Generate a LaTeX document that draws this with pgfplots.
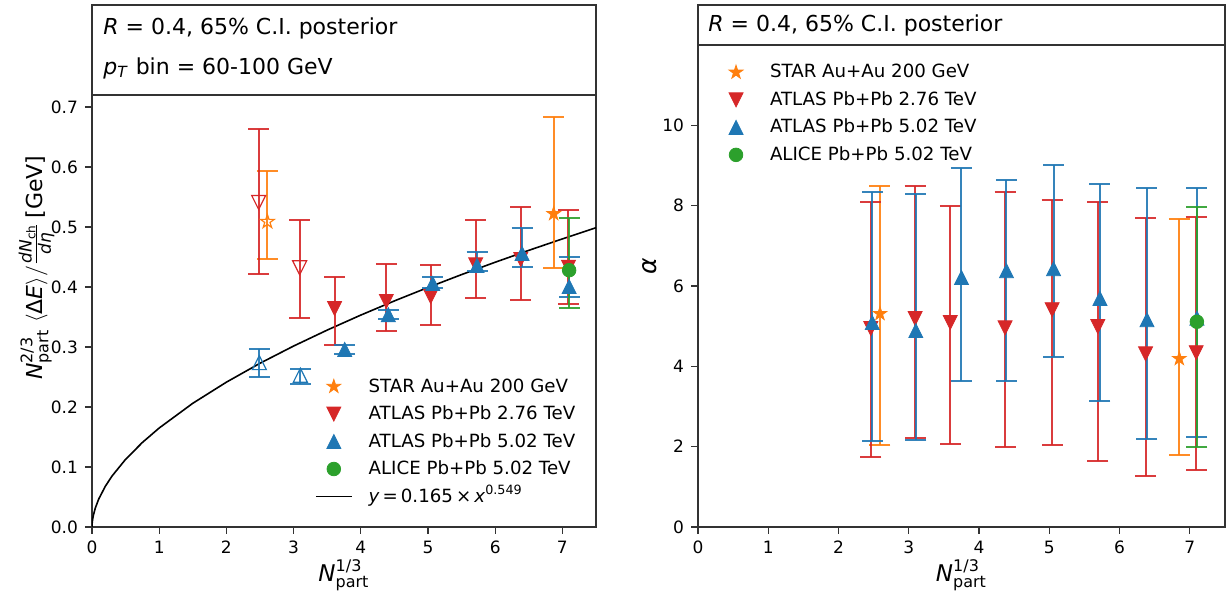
\documentclass[border=0pt]{standalone}
\usepackage{fontspec}
\setmainfont{DejaVu Sans}
\usepackage{pgfplots}
\pgfplotsset{compat=1.18}
\usepackage{pgfplotstable}

\definecolor{tabred}{HTML}{D62728}
\definecolor{tabblue}{HTML}{1F77B4}
\definecolor{taborange}{HTML}{FF7F0E}
\definecolor{tabgreen}{HTML}{2CA02C}
\definecolor{framegray}{gray}{0.2}

\newcommand\tickfont{\fontsize{8.5}{10}\selectfont}
\newcommand\legfont{\fontsize{9.1}{11}\selectfont}
\newcommand\labfont{\fontsize{11.5}{13}\selectfont}
\newcommand\scrfont{\fontsize{8}{9}\selectfont}

% matplotlib-like markers
\pgfdeclareplotmark{mtriu}{%
  \pgfpathmoveto{\pgfpoint{0pt}{\pgfplotmarksize}}%
  \pgfpathlineto{\pgfpoint{-\pgfplotmarksize}{-\pgfplotmarksize}}%
  \pgfpathlineto{\pgfpoint{\pgfplotmarksize}{-\pgfplotmarksize}}%
  \pgfpathclose\pgfusepathqfillstroke}
\pgfdeclareplotmark{mtriuo}{%
  \pgfpathmoveto{\pgfpoint{0pt}{\pgfplotmarksize}}%
  \pgfpathlineto{\pgfpoint{-\pgfplotmarksize}{-\pgfplotmarksize}}%
  \pgfpathlineto{\pgfpoint{\pgfplotmarksize}{-\pgfplotmarksize}}%
  \pgfpathclose\pgfusepathqstroke}
\pgfdeclareplotmark{mtrid}{%
  \pgfpathmoveto{\pgfpoint{0pt}{-\pgfplotmarksize}}%
  \pgfpathlineto{\pgfpoint{-\pgfplotmarksize}{\pgfplotmarksize}}%
  \pgfpathlineto{\pgfpoint{\pgfplotmarksize}{\pgfplotmarksize}}%
  \pgfpathclose\pgfusepathqfillstroke}
\pgfdeclareplotmark{mtrido}{%
  \pgfpathmoveto{\pgfpoint{0pt}{-\pgfplotmarksize}}%
  \pgfpathlineto{\pgfpoint{-\pgfplotmarksize}{\pgfplotmarksize}}%
  \pgfpathlineto{\pgfpoint{\pgfplotmarksize}{\pgfplotmarksize}}%
  \pgfpathclose\pgfusepathqstroke}
\newcommand\starpath{%
  \pgfpathmoveto{\pgfpointpolar{90}{\pgfplotmarksize}}%
  \pgfpathlineto{\pgfpointpolar{126}{0.382\pgfplotmarksize}}%
  \pgfpathlineto{\pgfpointpolar{162}{\pgfplotmarksize}}%
  \pgfpathlineto{\pgfpointpolar{198}{0.382\pgfplotmarksize}}%
  \pgfpathlineto{\pgfpointpolar{234}{\pgfplotmarksize}}%
  \pgfpathlineto{\pgfpointpolar{270}{0.382\pgfplotmarksize}}%
  \pgfpathlineto{\pgfpointpolar{306}{\pgfplotmarksize}}%
  \pgfpathlineto{\pgfpointpolar{342}{0.382\pgfplotmarksize}}%
  \pgfpathlineto{\pgfpointpolar{18}{\pgfplotmarksize}}%
  \pgfpathlineto{\pgfpointpolar{54}{0.382\pgfplotmarksize}}%
  \pgfpathclose}
\pgfdeclareplotmark{mstar}{\starpath\pgfusepathqfillstroke}
\pgfdeclareplotmark{mstaro}{\starpath\pgfusepathqstroke}

\pgfplotsset{
  legend image code/.code={\path[draw=none,fill=none] (0pt,0pt) (18pt,0pt);\draw[mark repeat=2,mark phase=2,#1] plot coordinates {(0pt,0pt) (9pt,0pt) (18pt,0pt)};},
  mystyle/.style={
    scale only axis,
    axis line style={framegray, line width=0.6pt},
    tick pos=left, tick align=outside,
    major tick length=3.5pt,
    every tick/.style={framegray, line width=0.6pt},
    tick label style={font=\tickfont},
    /pgf/number format/assume math mode=true,
    xmin=0, xmax=7.5, xtick={0,1,2,3,4,5,6,7},
    legend cell align=left,
    legend style={draw=none, fill=none, inner sep=0pt, outer sep=0pt,
      row sep=3.25pt, column sep=7pt, font=\legfont,
      nodes={inner sep=1pt, text height=7pt, text depth=1.5pt}},
  },
  eb/.style={only marks, color=#1,
    error bars/y dir=both, error bars/y explicit,
    error bars/error bar style={line width=1pt, color=#1, opacity=0.9},
    error bars/error mark options={rotate=90, mark size=5.25pt, line width=1pt, color=#1, opacity=0.9}},
  open/.style={mark options={line width=0.6pt, fill=none}},
}

% ---------------- left panel data ----------------
\pgfplotstableread{
x y lo hi
6.87 0.522 0.432 0.684
}\LstarF
\pgfplotstableread{
x y lo hi
2.61 0.509 0.447 0.594
}\LstarO
\pgfplotstableread{
x y lo hi
3.61 0.364 0.304 0.417
4.38 0.376 0.326 0.439
5.04 0.384 0.337 0.436
5.71 0.437 0.382 0.511
6.38 0.446 0.379 0.534
7.09 0.433 0.372 0.529
}\LredF
\pgfplotstableread{
x y lo hi
2.48 0.541 0.422 0.663
3.09 0.432 0.349 0.511
}\LredO
\pgfplotstableread{
x y lo hi
3.76 0.296 0.289 0.304
4.41 0.354 0.346 0.362
5.07 0.406 0.399 0.416
5.73 0.436 0.426 0.459
6.40 0.456 0.434 0.499
7.10 0.401 0.384 0.450
}\LblueF
\pgfplotstableread{
x y lo hi
2.49 0.274 0.250 0.297
3.10 0.253 0.239 0.264
}\LblueO
\pgfplotstableread{
x y lo hi
7.10 0.428 0.365 0.515
}\Lgreen
\pgfplotstableread{
x y
0 0
0.001 0.00372
0.003 0.0068
0.01 0.01317
0.02 0.01927
0.05 0.03186
0.1 0.04661
0.2 0.0682
0.3 0.0852
0.5 0.1128
0.75 0.1409
1 0.165
1.5 0.2062
2 0.2414
2.5 0.2729
3 0.3016
3.5 0.3282
4 0.3532
4.5 0.3768
5 0.3992
5.5 0.4207
6 0.4413
6.5 0.4611
7 0.4802
7.5 0.4988
}\Lfit

% ---------------- right panel data ----------------
\pgfplotstableread{
x y lo hi
2.59 5.31 2.04 8.50
6.85 4.19 1.80 7.66
}\Rstar
\pgfplotstableread{
x y lo hi
2.46 4.94 1.75 8.08
3.09 5.19 2.22 8.48
3.59 5.09 2.07 8.00
4.37 4.96 2.00 8.33
5.04 5.41 2.04 8.15
5.69 4.99 1.65 8.08
6.37 4.31 1.27 7.70
7.09 4.34 1.42 7.73
}\Rred
\pgfplotstableread{
x y lo hi
2.48 5.09 2.14 8.35
3.10 4.89 2.17 8.30
3.75 6.21 3.64 8.93
4.39 6.38 3.64 8.65
5.06 6.43 4.24 9.00
5.72 5.69 3.14 8.53
6.39 5.16 2.19 8.45
7.10 5.20 2.24 8.43
}\Rblue
\pgfplotstableread{
x y lo hi
7.10 5.11 1.98 7.96
}\Rgreen

\begin{document}
\begin{tikzpicture}
\path[use as bounding box] (0,0) rectangle (616pt,297pt);

% ---------- left header ----------
\draw[framegray, line width=0.6pt] (46pt,249.5pt) rectangle (298pt,294.5pt);
\node[anchor=west, inner sep=0pt, font=\fontsize{11}{13}\selectfont] at (51.5pt,283pt) {\textit{R} = 0.4, 65\% C.I. posterior};
\node[anchor=west, inner sep=0pt, font=\fontsize{11}{13}\selectfont] at (51.5pt,263pt) {\textit{p}\textsubscript{\textit{T}} bin = 60-100 GeV};

% ---------- right header ----------
\draw[framegray, line width=0.6pt] (349pt,274.5pt) rectangle (612.5pt,294.5pt);
\node[anchor=west, inner sep=0pt, font=\fontsize{11}{13}\selectfont] at (354pt,284.5pt) {\textit{R} = 0.4, 65\% C.I. posterior};

% ---------- left axis ----------
\begin{axis}[mystyle,
  at={(46pt,33.5pt)}, anchor=south west,
  width=252pt, height=216pt,
  ymin=0, ymax=0.72,
  ytick={0,0.1,0.2,0.3,0.4,0.5,0.6,0.7},
  yticklabel style={/pgf/number format/.cd, fixed, fixed zerofill, precision=1},
  xlabel={\labfont$\mbox{\textit{N}}^{\mbox{\scrfont 1/3}}_{\mbox{\scrfont part}}$},
  xlabel style={at={(axis description cs:0.5,-0.111)}, anchor=center},
  ylabel={\fontsize{11}{13}\selectfont$\mbox{\textit{N}}^{\mbox{\scrfont 2/3}}_{\mbox{\scrfont part}}\ \langle\mbox{Δ\textit{E}}\rangle/\frac{\mbox{\fontsize{8.5}{9}\selectfont\textit{dN}}_{\mbox{\fontsize{6}{7}\selectfont ch}}}{\mbox{\fontsize{8.5}{9}\selectfont\textit{d}\textit{η}}}\,\mbox{[GeV]}$},
  ylabel style={at={(axis description cs:-0.11,0.6)}, anchor=center},
  legend style={at={(axis description cs:0.4425,0.3495)}, anchor=north west},
]
\addplot[black, line width=0.8pt, forget plot] table[x=x,y=y] {\Lfit};
\addplot[eb=taborange, mark=mstar, mark size=3.6pt] table[x=x, y=y, y error plus expr=\thisrow{hi}-\thisrow{y}, y error minus expr=\thisrow{y}-\thisrow{lo}] {\LstarF};
\addlegendentry{STAR Au+Au 200 GeV}
\addplot[eb=taborange, mark=mstaro, mark size=3.6pt, open, forget plot] table[x=x, y=y, y error plus expr=\thisrow{hi}-\thisrow{y}, y error minus expr=\thisrow{y}-\thisrow{lo}] {\LstarO};
\addplot[eb=tabred, mark=mtrid, mark size=3.5pt] table[x=x, y=y, y error plus expr=\thisrow{hi}-\thisrow{y}, y error minus expr=\thisrow{y}-\thisrow{lo}] {\LredF};
\addlegendentry{ATLAS Pb+Pb 2.76 TeV}
\addplot[eb=tabred, mark=mtrido, mark size=3.5pt, open, forget plot] table[x=x, y=y, y error plus expr=\thisrow{hi}-\thisrow{y}, y error minus expr=\thisrow{y}-\thisrow{lo}] {\LredO};
\addplot[eb=tabblue, mark=mtriu, mark size=3.5pt] table[x=x, y=y, y error plus expr=\thisrow{hi}-\thisrow{y}, y error minus expr=\thisrow{y}-\thisrow{lo}] {\LblueF};
\addlegendentry{ATLAS Pb+Pb 5.02 TeV}
\addplot[eb=tabblue, mark=mtriuo, mark size=3.5pt, open, forget plot] table[x=x, y=y, y error plus expr=\thisrow{hi}-\thisrow{y}, y error minus expr=\thisrow{y}-\thisrow{lo}] {\LblueO};
\addplot[eb=tabgreen, mark=*, mark size=3.4pt] table[x=x, y=y, y error plus expr=\thisrow{hi}-\thisrow{y}, y error minus expr=\thisrow{y}-\thisrow{lo}] {\Lgreen};
\addlegendentry{ALICE Pb+Pb 5.02 TeV}
\addlegendimage{black, line width=0.8pt}
\addlegendentry{\textit{y}\,=\,0.165\,×\,\textit{x}\textsuperscript{0.549}}
\end{axis}

% ---------- right axis ----------
\begin{axis}[mystyle,
  at={(349pt,33.5pt)}, anchor=south west,
  width=263.5pt, height=241pt,
  ymin=0, ymax=12,
  ytick={0,2,4,6,8,10},
  xlabel={\labfont$\mbox{\textit{N}}^{\mbox{\scrfont 1/3}}_{\mbox{\scrfont part}}$},
  xlabel style={at={(axis description cs:0.5,-0.0996)}, anchor=center},
  ylabel={\fontsize{12.5}{14}\selectfont\textit{α}},
  ylabel style={at={(axis description cs:-0.091,0.54)}, anchor=center},
  legend style={at={(axis description cs:0.038,0.965)}, anchor=north west},
]
\addplot[eb=taborange, mark=mstar, mark size=3.6pt] table[x=x, y=y, y error plus expr=\thisrow{hi}-\thisrow{y}, y error minus expr=\thisrow{y}-\thisrow{lo}] {\Rstar};
\addlegendentry{STAR Au+Au 200 GeV}
\addplot[eb=tabred, mark=mtrid, mark size=3.5pt] table[x=x, y=y, y error plus expr=\thisrow{hi}-\thisrow{y}, y error minus expr=\thisrow{y}-\thisrow{lo}] {\Rred};
\addlegendentry{ATLAS Pb+Pb 2.76 TeV}
\addplot[eb=tabblue, mark=mtriu, mark size=3.5pt] table[x=x, y=y, y error plus expr=\thisrow{hi}-\thisrow{y}, y error minus expr=\thisrow{y}-\thisrow{lo}] {\Rblue};
\addlegendentry{ATLAS Pb+Pb 5.02 TeV}
\addplot[eb=tabgreen, mark=*, mark size=3.4pt] table[x=x, y=y, y error plus expr=\thisrow{hi}-\thisrow{y}, y error minus expr=\thisrow{y}-\thisrow{lo}] {\Rgreen};
\addlegendentry{ALICE Pb+Pb 5.02 TeV}
\end{axis}
\end{tikzpicture}
\end{document}
